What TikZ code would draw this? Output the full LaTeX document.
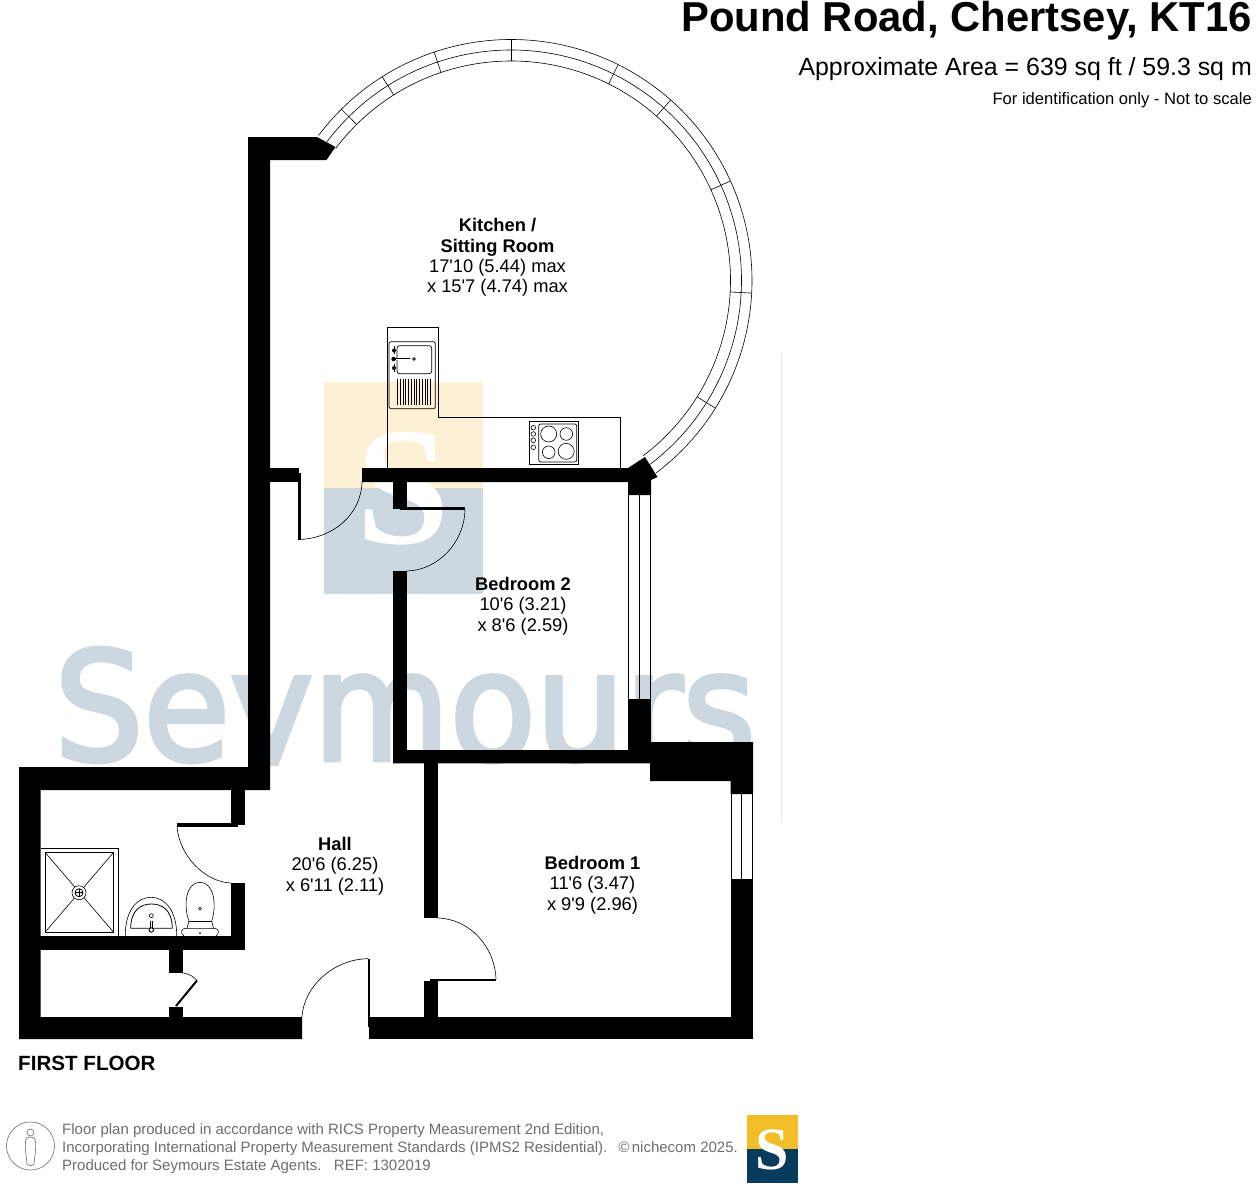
\documentclass[tikz,border=0pt]{standalone}
\usepackage{fontspec}
\setmainfont{Liberation Sans}
\newfontfamily\plainf{Liberation Sans}
\newfontfamily\serifS{Liberation Serif}
\newfontfamily\wmfont[FakeStretch=0.93,FakeBold=3]{DejaVu Sans}
\definecolor{wm}{HTML}{CCD7DF}
\definecolor{wy}{HTML}{FDF1D5}
\definecolor{ft}{HTML}{6E6E6E}
\tikzset{
  wallf/.style={fill=black,draw=none},
  door/.style={draw=black,line width=0.6pt},
  fine/.style={draw=black,line width=0.6pt},
  room/.style={align=center,font=\plainf\fontsize{18.3}{20.3}\selectfont,inner sep=0pt},
}
\begin{document}
\begin{tikzpicture}[x=1pt,y=-1pt]
\useasboundingbox (0,0) rectangle (1256,1194);
\fill[white] (0,0) rectangle (1256,1194);
% watermark
\fill[wy] (324,382) rectangle (483,488);
\fill[wm] (324,488) rectangle (483,594);
\node[inner sep=0pt,text=white,font=\serifS\bfseries\fontsize{168}{168}\selectfont] (wmS) at (403,489) {S};
\begin{scope}
\clip (0,600) rectangle (1256,765);
\node[inner sep=0pt,anchor=base,text=wm,font=\wmfont\fontsize{151}{151}\selectfont] (wmT) at (405,760) {Seymours};
\end{scope}
\draw[draw=black!9,line width=0.7pt] (781,353) -- (781,822);
% arc
\def\cx{511}\def\cy{280.5}
\foreach \r in {241,230.5,219.5}{
  \draw[fine] ({\cx+\r*cos(143)},{\cy-\r*sin(143)}) arc[start angle=-143,end angle=53,radius=\r];
}
\foreach \a in {134.7,122.3,108.6,90,63.6,48.5,24.4,-3,-32}{
  \draw[fine] ({\cx+219.5*cos(\a)},{\cy-219.5*sin(\a)}) -- ({\cx+241*cos(\a)},{\cy-241*sin(\a)});
}
% walls
\fill[wallf] (248,137) -- (317,137) -- (335.5,147) -- (326.5,160) -- (270,160) -- (270,790) -- (40.5,790) -- (40.5,1017) -- (302,1017) -- (302,1039) -- (19,1039) -- (19,767) -- (248,767) -- cycle;
\fill[wallf] (270,468) rectangle (299,482);
\fill[wallf] (298,473) rectangle (300.7,540);
\fill[wallf] (362,468) -- (628,468) -- (645,457) -- (657.5,477) -- (651,480) -- (651,495) -- (628,495) -- (628,482) -- (362,482) -- cycle;
\fill[wallf] (393,482) rectangle (407,508.5);
\fill[wallf] (400,506.5) rectangle (465,510);
\fill[wallf] (393,571) rectangle (407,763);
\fill[wallf] (628,699) rectangle (651,742);
\fill[wallf] (393,750) -- (628,750) -- (628,742) -- (753,742) -- (753,794) -- (730.5,794) -- (730.5,781) -- (650,781) -- (650,763.3) -- (393,763.3) -- cycle;
\fill[wallf] (424,763) rectangle (438,918);
\fill[wallf] (730.5,879) rectangle (753,1039);
\fill[wallf] (369,1017) rectangle (753,1039);
\fill[wallf] (367.5,958.7) rectangle (370,1027);
\fill[wallf] (424,981) rectangle (438,1017);
\fill[wallf] (430,978.7) rectangle (496,981.2);
% bathroom walls
\fill[wallf] (231,790) rectangle (244.5,824.5);
\fill[wallf] (177,823.3) rectangle (238,827);
\fill[wallf] (231,883) rectangle (244.5,936);
\fill[wallf] (40,936) rectangle (244.5,950);
\fill[wallf] (169,950) rectangle (183,973);
\fill[wallf] (169,1006.7) rectangle (183,1017);
\draw[line width=2pt] (176,1006) -- (197,980.5);
% windows
\draw[line width=0.7pt] (628.5,495) -- (628.5,699) (639.5,495) -- (639.5,699) (650.7,495) -- (650.7,699);
\draw[line width=0.7pt] (731,794) -- (731,879) (741.5,794) -- (741.5,879) (752.5,794) -- (752.5,879);
% door arcs
\draw[door] (300,539.5) .. controls (333,538) and (361,515) .. (362,482);
\draw[door] (407,571) .. controls (438,570) and (464,543) .. (465,510);
\draw[door] (177,826) .. controls (179,856) and (205,882) .. (231,883);
\draw[door] (302,1017) .. controls (304,985) and (335,959) .. (368,958.7);
\draw[door] (438,918) .. controls (470,919) and (495,947) .. (496,979);
\draw[door] (183,973) .. controls (190,974) and (194,977) .. (197,980.5);
% kitchen units
\draw[line width=0.8pt] (387.5,468) -- (387.5,327.5) -- (438.5,327.5) -- (438.5,417.5) -- (620.7,417.5) -- (620.7,468);
\draw[line width=0.7pt,rounded corners=1.5pt] (389,341.7) rectangle (435.3,408.7);
\draw[line width=0.7pt,rounded corners=2.5pt] (397,345.7) rectangle (431.7,373.7);
\draw[line width=2.6pt] (393,359) -- (410,359);
\draw[line width=0.9pt,draw=white] (396,359) -- (409.5,359);
\fill (393.5,359) circle (2.2);
\draw[fine,fill=white] (414,359) circle (1.4);
\fill (394,350.5) circle (2) (394,368) circle (2);
\draw[line width=1pt] (394,346) -- (394,354) (394,364) -- (394,372);
\foreach \i in {0,...,12}{\draw[line width=1.2pt] ({397.6+\i*2.75},378.7) -- ({397.6+\i*2.75},405);}
\draw[line width=0.7pt] (529.3,421.3) rectangle (578.3,464.3);
\draw[line width=0.7pt,rounded corners=2pt] (538.7,424) rectangle (576.7,462);
\draw[fine] (548.7,434) circle (8) (566.3,434) circle (6.3) (548.7,452.3) circle (6.3) (566.2,451.3) circle (8);
\foreach \y in {427.7,434,440.3,447.3}{\draw[fine] (533.3,\y) circle (2.3);}
% shower
\draw[line width=0.7pt] (40.5,848.3) -- (118.3,848.3) -- (118.3,936);
\draw[line width=0.7pt] (45,852.3) rectangle (113.7,932.3);
\draw[fine] (45,852.3) -- (113.7,932.3) (113.7,852.3) -- (45,932.3);
\draw[fine,fill=white] (79,892.7) circle (7);
\draw[line width=0.8pt] (79,892.7) circle (4);
\draw[fine] (75,892.7) -- (83,892.7) (79,888.7) -- (79,896.7);
% basin
\draw[fine] (125.3,936) .. controls (125,912) and (136,897.3) .. (151,897.3) .. controls (166,897.3) and (177,912) .. (176.7,936);
\draw[line width=0.8pt] (130.7,928.3) .. controls (130.7,910) and (141,904) .. (151.5,904) .. controls (162,904) and (172.3,910) .. (172.3,928.3) -- cycle;
\draw[fine] (151.3,915.7) circle (2);
\draw[line width=1pt] (150,921) -- (150,932) (152.6,921) -- (152.6,932);
\draw[line width=0.9pt,fill=white] (151.3,930) circle (2.2);
% wc
\draw[fine] (189,921.3) .. controls (183,905) and (186,882.3) .. (200,882.3) .. controls (214,882.3) and (217,905) .. (211.7,921.3);
\draw[line width=0.9pt] (189,921.3) -- (211.7,921.3);
\draw[fine] (200,908.7) circle (1.5);
\draw[fine] (189,921.3) -- (187,928.3) (211.7,921.3) -- (213.5,928.3);
\draw[fine] (184,936) .. controls (180,933) and (181,928.3) .. (186,928.3) -- (214,928.3) .. controls (219,928.3) and (220,933) .. (216,936);
\fill (200,933) circle (1);
% room labels
\node[room] (kit) at (497.5,257.5) {\textbf{Kitchen /}\\\textbf{Sitting Room}\\17'10 (5.44) max\\x 15'7 (4.74) max};
\node[room] (bed2) at (523,606) {\textbf{Bedroom 2}\\10'6 (3.21)\\x 8'6 (2.59)};
\node[room] (bed1) at (592.5,885) {\textbf{Bedroom 1}\\11'6 (3.47)\\x 9'9 (2.96)};
\node[room] (hall) at (335,866) {\textbf{Hall}\\20'6 (6.25)\\x 6'11 (2.11)};
\node[inner sep=0pt,anchor=base west,font=\bfseries\fontsize{20.6}{24}\selectfont] (ff) at (18,1070) {FIRST FLOOR};
% title
\node[inner sep=0pt,anchor=base east,font=\bfseries\fontsize{41.8}{42}\selectfont] (title) at (1252,31) {Pound Road, Chertsey, KT16};
\node[inner sep=0pt,anchor=base east,font=\fontsize{24.9}{26}\selectfont] (area) at (1252,75) {Approximate Area = 639 sq ft / 59.3 sq m};
\node[inner sep=0pt,anchor=base east,font=\fontsize{16.6}{18}\selectfont] (id) at (1252,104) {For identification only - Not to scale};
% footer
\draw[line width=0.6pt,draw=ft] (30.5,1146) circle (24);
\draw[line width=0.6pt,draw=ft] (30.5,1132.5) circle (3.5);
\draw[line width=0.6pt,draw=ft] (30.5,1137) .. controls (25,1137) and (25,1141) .. (25.5,1150) .. controls (26,1158) and (27,1160) .. (27,1164) .. controls (28,1166) and (33,1166) .. (34,1164) .. controls (34,1160) and (35,1158) .. (35.5,1150) .. controls (36,1141) and (36,1137) .. (30.5,1137) -- cycle;
\node[inner sep=0pt,anchor=base west,text=ft,font=\fontsize{15}{18}\selectfont] (f1) at (62,1134) {Floor plan produced in accordance with RICS Property Measurement 2nd Edition,};
\node[inner sep=0pt,anchor=base west,text=ft,font=\fontsize{15}{18}\selectfont] (f2) at (62,1152) {Incorporating International Property Measurement Standards (IPMS2 Residential).};
\node[inner sep=0pt,anchor=base west,text=ft,font=\fontsize{15}{18}\selectfont] (f3) at (62,1170) {Produced for Seymours Estate Agents.\ \ \ REF: 1302019};
\node[inner sep=0pt,anchor=base east,text=ft,font=\fontsize{15}{18}\selectfont] (f4) at (738,1152) {©\,nichecom 2025.};
\fill[fill={rgb,255:red,242;green,190;blue,40}] (747,1115) rectangle (798,1149);
\fill[fill={rgb,255:red,8;green,60;blue,92}] (747,1149) rectangle (798,1183);
\node[inner sep=0pt,text=white,font=\serifS\bfseries\fontsize{60}{60}\selectfont] (logoS) at (772,1150) {S};
\end{tikzpicture}
\end{document}
